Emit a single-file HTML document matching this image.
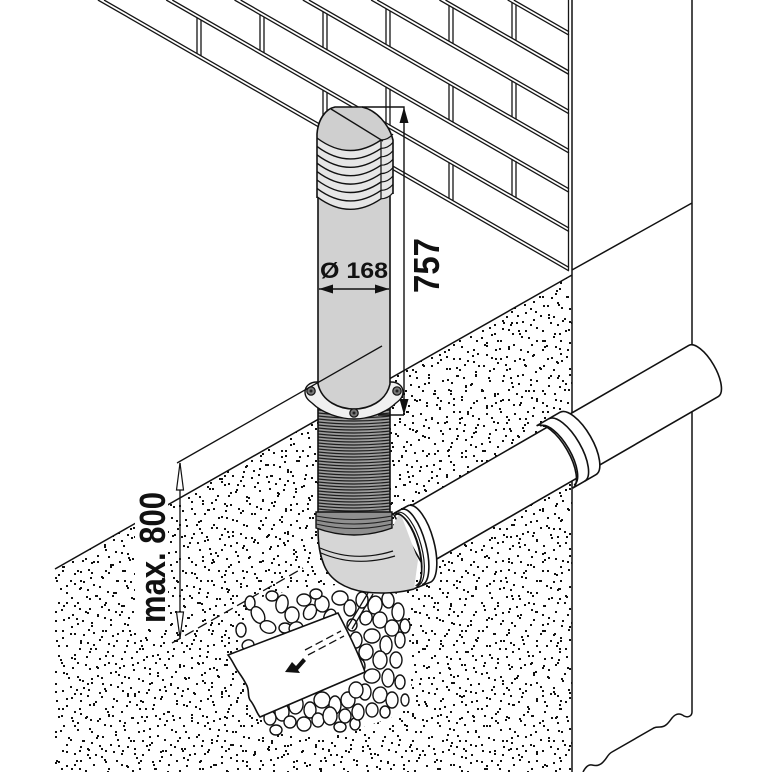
<!DOCTYPE html>
<html><head><meta charset="utf-8"><style>html,body{margin:0;padding:0;background:#fff}svg{display:block}</style></head>
<body>
<svg width="772" height="772" viewBox="0 0 772 772" xmlns="http://www.w3.org/2000/svg">
<defs>
<pattern id="pA" width="60" height="60" patternUnits="userSpaceOnUse"><path fill="#111" d="M3 5h2v2h-2zM17 2h2v2h-2zM29 8h2v2h-2zM44 4h2v2h-2zM55 11h2v2h-2zM8 17h2v2h-2zM22 20h2v2h-2zM37 15h2v2h-2zM50 24h2v2h-2zM2 30h2v2h-2zM14 33h2v2h-2zM28 29h2v2h-2zM41 36h2v2h-2zM56 40h2v2h-2zM6 45h2v2h-2zM19 48h2v2h-2zM33 44h2v2h-2zM47 51h2v2h-2zM11 57h2v2h-2zM26 56h2v2h-2zM39 58h2v2h-2zM52 55h2v2h-2zM31 22h2v2h-2zM45 30h2v2h-2zM20 40h2v2h-2z"/></pattern>
<pattern id="pB" width="47" height="53" patternUnits="userSpaceOnUse"><path fill="#111" d="M5 3h2v2h-2zM19 9h2v2h-2zM33 4h2v2h-2zM42 15h2v2h-2zM11 19h2v2h-2zM27 22h2v2h-2zM38 28h2v2h-2zM3 31h2v2h-2zM16 36h2v2h-2zM30 40h2v2h-2zM44 42h2v2h-2zM8 47h2v2h-2zM23 50h2v2h-2zM36 51h2v2h-2zM14 26h2v2h-2zM40 6h2v2h-2zM25 31h2v2h-2zM1 12h2v2h-2z"/></pattern>
<pattern id="pC" width="83" height="71" patternUnits="userSpaceOnUse"><path fill="#111" d="M7 9h2v2h-2zM25 4h2v2h-2zM41 12h2v2h-2zM58 6h2v2h-2zM74 15h2v2h-2zM13 27h2v2h-2zM32 24h2v2h-2zM50 30h2v2h-2zM66 34h2v2h-2zM79 40h2v2h-2zM4 44h2v2h-2zM21 49h2v2h-2zM38 43h2v2h-2zM55 52h2v2h-2zM71 58h2v2h-2zM10 64h2v2h-2zM29 67h2v2h-2zM46 62h2v2h-2zM62 69h2v2h-2zM80 3h2v2h-2zM35 35h2v2h-2zM18 38h2v2h-2zM60 20h2v2h-2zM76 50h2v2h-2zM44 56h2v2h-2z"/></pattern>
<clipPath id="gc"><polygon points="55,569 572,275 572,772 55,772"/></clipPath>
</defs>
<rect width="772" height="772" fill="#fff"/>

<!-- ground speckle -->
<g clip-path="url(#gc)">
<rect x="0" y="0" width="772" height="772" fill="url(#pA)"/>
<rect x="0" y="0" width="772" height="772" fill="url(#pB)"/>
<rect x="0" y="0" width="772" height="772" fill="url(#pC)"/>
</g>

<!-- bricks -->
<g stroke="#151515" stroke-width="1.3" fill="none">
<path d="M104,0L569,267.4M97.9,0L569,270.9M172.3,0L569,228.1M166.2,0L569,231.6M240.6,0L569,188.8M234.5,0L569,192.3M308.9,0L569,149.6M302.8,0L569,153.1M377.2,0L569,110.3M371.1,0L569,113.8M445.5,0L569,71M439.4,0L569,74.5M513.8,0L569,31.7M507.7,0L569,35.2"/>
<path d="M197,17.7V53.5M201,20V55.8M323,90.2V125.9M327,92.5V128.2M449,162.6V198.4M453,164.9V200.7M260,14.7V50.4M264,17V52.7M386,86.5V122.9M390,88.8V125.2M512,159V195.3M516,161.3V197.6M323,11.6V47.9M327,13.9V50.2M449,84.1V120M453,86.4V122.3M386,8.6V44.3M390,10.9V46.6M512,81V116.8M516,83.3V119.1M449,5.5V41.3M453,7.8V43.6M512,2.5V38.2M516,4.8V40.5"/>
<path d="M568.5,0V270"/>
</g>

<!-- wall & ground lines -->
<g stroke="#111" stroke-width="1.5" fill="none">
<path d="M572,0V772M692,0V712M572,270L692,203M55,569L572,275"/>
<path d="M692,712C692,716 688,718 684,716C680,713 676,713 672,718C669,722 666,727 660,727C657,727 655,727 652,729L612,752C608,754 607,758 604,761C600,766 596,766 592,765C588,764 585,768 583,772"/>
</g>

<!-- dimension 800 -->
<g stroke="#111" stroke-width="1.3" fill="none">
<path d="M180,463V638"/>
<path d="M172,643L303,568" stroke-dasharray="10 5"/>
</g>
<polygon points="180,463 176.5,490 183.5,490" fill="#fff" stroke="#111" stroke-width="1.2"/>
<polygon points="180,638 176.5,612 183.5,612" fill="#fff" stroke="#111" stroke-width="1.2"/>

<!-- horizontal pipe -->
<g stroke="#111" stroke-width="1.6" fill="#fff">
<path d="M394.3,515.5L688.75,345.45A11.8 29.5 -30 0 1 718.25,396.55L423.8,566.5Z"/>
<path d="M536.55,425.82L559.93,412.32A14.4 36 -30 0 1 595.93,474.68L572.55,488.18A14.4 36 -30 0 0 536.55,425.82Z"/>
<path fill="none" d="M540.15,426.06A13.6 34 -30 0 1 574.15,484.94"/>
<path fill="none" d="M548.67,418.82A14.4 36 -30 0 1 584.67,481.18"/>
</g>

<!-- gravel backing -->
<path d="M250,600L300,588L350,584L407,596L412,700L397,716L355,730L300,736L265,732L262,700L238,640Z" fill="#fff"/>
<g fill="#fff" stroke="#111" stroke-width="1.4">
<ellipse cx="250" cy="603" rx="5" ry="7"/>
<ellipse cx="272" cy="596" rx="6" ry="5"/>
<ellipse cx="258" cy="615" rx="6" ry="9" transform="rotate(-30 258 615)"/>
<ellipse cx="268" cy="627" rx="8" ry="6" transform="rotate(20 268 627)"/>
<ellipse cx="282" cy="604" rx="6" ry="9" transform="rotate(10 282 604)"/>
<ellipse cx="292" cy="615" rx="7" ry="8"/>
<ellipse cx="285" cy="628" rx="6" ry="5"/>
<ellipse cx="304" cy="600" rx="7" ry="6"/>
<ellipse cx="310" cy="612" rx="6" ry="8" transform="rotate(30 310 612)"/>
<ellipse cx="322" cy="604" rx="7" ry="8" transform="rotate(-10 322 604)"/>
<ellipse cx="330" cy="617" rx="6" ry="8" transform="rotate(20 330 617)"/>
<ellipse cx="340" cy="598" rx="8" ry="7"/>
<ellipse cx="350" cy="608" rx="6" ry="8"/>
<ellipse cx="316" cy="594" rx="6" ry="5"/>
<ellipse cx="296" cy="628" rx="7" ry="6" transform="rotate(-20 296 628)"/>
<ellipse cx="248" cy="645" rx="6" ry="5" transform="rotate(-20 248 645)"/>
<ellipse cx="241" cy="630" rx="5" ry="7"/>
<ellipse cx="362" cy="600" rx="6" ry="8"/>
<ellipse cx="375" cy="605" rx="7" ry="9" transform="rotate(10 375 605)"/>
<ellipse cx="388" cy="600" rx="6" ry="8" transform="rotate(-10 388 600)"/>
<ellipse cx="398" cy="612" rx="6" ry="9"/>
<ellipse cx="380" cy="620" rx="7" ry="8"/>
<ellipse cx="366" cy="618" rx="6" ry="7" transform="rotate(20 366 618)"/>
<ellipse cx="405" cy="626" rx="5" ry="7"/>
<ellipse cx="392" cy="628" rx="7" ry="8"/>
<ellipse cx="352" cy="625" rx="5" ry="6"/>
<ellipse cx="372" cy="636" rx="8" ry="7"/>
<ellipse cx="386" cy="645" rx="6" ry="9"/>
<ellipse cx="400" cy="640" rx="5" ry="8"/>
<ellipse cx="356" cy="640" rx="6" ry="8"/>
<ellipse cx="366" cy="652" rx="7" ry="8" transform="rotate(10 366 652)"/>
<ellipse cx="360" cy="666" rx="5" ry="7"/>
<ellipse cx="380" cy="660" rx="7" ry="9"/>
<ellipse cx="396" cy="660" rx="6" ry="8"/>
<ellipse cx="372" cy="676" rx="8" ry="7" transform="rotate(-10 372 676)"/>
<ellipse cx="388" cy="678" rx="6" ry="9"/>
<ellipse cx="400" cy="682" rx="5" ry="7"/>
<ellipse cx="365" cy="692" rx="6" ry="8"/>
<ellipse cx="380" cy="695" rx="7" ry="8" transform="rotate(10 380 695)"/>
<ellipse cx="392" cy="700" rx="6" ry="8"/>
<ellipse cx="405" cy="700" rx="4" ry="6"/>
<ellipse cx="372" cy="710" rx="6" ry="7"/>
<ellipse cx="385" cy="712" rx="5" ry="6"/>
<ellipse cx="270" cy="718" rx="6" ry="7"/>
<ellipse cx="282" cy="712" rx="7" ry="9"/>
<ellipse cx="296" cy="705" rx="7" ry="9" transform="rotate(10 296 705)"/>
<ellipse cx="310" cy="710" rx="6" ry="8"/>
<ellipse cx="322" cy="700" rx="8" ry="8"/>
<ellipse cx="335" cy="705" rx="6" ry="9"/>
<ellipse cx="348" cy="700" rx="7" ry="8"/>
<ellipse cx="290" cy="722" rx="6" ry="6"/>
<ellipse cx="304" cy="724" rx="7" ry="7"/>
<ellipse cx="318" cy="720" rx="6" ry="7"/>
<ellipse cx="330" cy="716" rx="7" ry="9"/>
<ellipse cx="345" cy="716" rx="6" ry="7"/>
<ellipse cx="340" cy="727" rx="6" ry="5"/>
<ellipse cx="355" cy="724" rx="5" ry="6"/>
<ellipse cx="358" cy="712" rx="6" ry="8"/>
<ellipse cx="356" cy="690" rx="7" ry="8"/>
<ellipse cx="276" cy="730" rx="6" ry="5"/>
</g>

<!-- drain tube -->
<g stroke="#111" stroke-width="1.3" fill="none"><path d="M368,593L347,628M373,594L352,629"/></g>

<!-- drain pipe piece -->
<path d="M228,655L338,613C348,632 358,652 365,672L260,717C256,712 255,706 250,700C247,695 250,690 246,684C242,676 238,672 236,668C233,663 232,660 228,655Z" fill="#fff" stroke="#111" stroke-width="1.6"/>
<g stroke="#111" stroke-width="1.3" fill="none" stroke-dasharray="8 4"><path d="M305,650L341,631M308,655L344,636"/></g>
<path d="M285,672L292,662L296,666L303,658L306,661L298,670L300,673Z" fill="#111"/>

<!-- corrugated pipe -->
<rect x="318" y="400" width="72" height="115" fill="#9c9c9c"/>
<path stroke="#1e1e1e" stroke-width="1.2" fill="none" d="M318,404q36,4 72,0M318,407q36,4 72,0M318,410q36,4 72,0M318,413q36,4 72,0M318,416q36,4 72,0M318,419q36,4 72,0M318,422q36,4 72,0M318,425q36,4 72,0M318,428q36,4 72,0M318,431q36,4 72,0M318,434q36,4 72,0M318,437q36,4 72,0M318,440q36,4 72,0M318,443q36,4 72,0M318,446q36,4 72,0M318,449q36,4 72,0M318,452q36,4 72,0M318,455q36,4 72,0M318,458q36,4 72,0M318,461q36,4 72,0M318,464q36,4 72,0M318,467q36,4 72,0M318,470q36,4 72,0M318,473q36,4 72,0M318,476q36,4 72,0M318,479q36,4 72,0M318,482q36,4 72,0M318,485q36,4 72,0M318,488q36,4 72,0M318,491q36,4 72,0M318,494q36,4 72,0M318,497q36,4 72,0M318,500q36,4 72,0M318,503q36,4 72,0M318,506q36,4 72,0M318,509q36,4 72,0"/>
<path d="M318,400V514M390,400V514" stroke="#111" stroke-width="1.6"/>

<!-- elbow -->
<path d="M318,528L392,528L400,512L418,560L414,589C400,593 380,594 365,592C345,589 330,580 324,565C320,555 318,545 318,528Z" fill="#d6d6d6"/>
<path d="M318,528C318,545 320,555 324,565C330,580 345,589 365,592C380,594 400,593 414,589" stroke="#111" stroke-width="1.6" fill="none"/>
<path d="M320,548Q355,563 393,551M321,553Q356,568 395,556" stroke="#111" stroke-width="1.2" fill="none"/>
<path d="M316,512L392,512L392,528Q354,542 316,528Z" fill="#8f8f8f" stroke="#111" stroke-width="1.4"/>
<path d="M316,516q38,7 76,0M316,520q38,8 76,0M316,524q38,9 76,0" stroke="#222" stroke-width="1.1" fill="none"/>

<!-- socket at elbow -->
<g stroke="#111" stroke-width="1.6" fill="#fff">
<path d="M393.9,513.3L408.65,505.36A15 40 -15 0 1 429.35,582.64L414.1,588.7A15 39 -15 0 0 393.9,513.3Z"/>
<path fill="none" stroke-width="1.2" d="M396.4,514.3A14 37 -15 0 1 415.6,585.7"/>
<path fill="none" stroke-width="1.2" d="M398.2,512.3A14 38 -15 0 1 417.8,585.7"/>
<path fill="none" d="M401.9,509.3A14 39 -15 0 1 422.1,584.7"/>
</g>

<!-- flange -->
<path d="M305,392C305,386 310,382 317,382L391,382C398,382 403,386 403,392C403,397 400,400 396,403C386,413 368,419 354,419C340,419 322,413 312,403C308,400 305,397 305,392Z" fill="#f0f0f0" stroke="#111" stroke-width="1.4"/>

<!-- pipe body -->
<path d="M318,196L318,384C322,402 340,409 354,409C368,409 386,402 390,384L390,196Z" fill="#d1d1d1"/>
<path d="M318,196L318,384C322,402 340,409 354,409C368,409 386,402 390,384L390,196" fill="none" stroke="#111" stroke-width="1.6"/>

<!-- bolts -->
<g fill="#777" stroke="#111" stroke-width="1.2">
<circle cx="311" cy="391" r="4.2"/><circle cx="397" cy="391" r="4.2"/><circle cx="354" cy="413" r="4.2"/>
</g>
<g fill="#222"><circle cx="311" cy="391" r="1.5"/><circle cx="397" cy="391" r="1.5"/><circle cx="354" cy="413" r="1.5"/></g>

<!-- head -->
<path d="M317,197L317,134C318,120 325,109 335,107L362,107C376,110 389,124 393,140L393,194L381,199Q349,221 317,197Z" fill="#e6e6e6"/>
<path d="M317,138L317,134C318,120 325,109 335,107L362,107C376,110 389,124 393,140L381,140Q349,162 317,138Z" fill="#cfcfcf"/>
<g stroke="#111" fill="none">
<path stroke-width="1.6" d="M317,198L317,134C318,120 325,109 335,107L362,107C376,110 389,124 393,140L393,194"/>
<path stroke-width="1.4" d="M317,138Q349,162 381,140M317,146.4Q349,170.4 381,148.4M317,154.8Q349,178.8 381,156.8M317,163.2Q349,187.2 381,165.2M317,171.6Q349,195.6 381,173.6M317,180Q349,204 381,182M317,188.4Q349,212.4 381,190.4M317,196.8Q349,220.8 381,198.8"/>
<path stroke-width="1.2" d="M381,140V199M381,140Q388,140 393,134M381,148.4Q388,148.4 393,142.4M381,156.8Q388,156.8 393,150.8M381,165.2Q388,165.2 393,159.2M381,173.6Q388,173.6 393,167.6M381,182Q388,182 393,176M381,190.4Q388,190.4 393,184.4M381,198.8Q388,198.8 393,192.8"/>
<path stroke-width="1.4" d="M331,109L383,141"/>
</g>

<!-- 800 top extension line over pipe -->
<path d="M177,463L382,346" stroke="#111" stroke-width="1.3" fill="none"/>

<!-- dimension 757 -->
<g stroke="#111" stroke-width="1.4" fill="none"><path d="M362,107H404V415M378,415H404"/></g>
<polygon points="404,107 399.5,123 408.5,123" fill="#111"/>
<polygon points="404,415 399.5,399 408.5,399" fill="#111"/>

<!-- dimension 168 -->
<path d="M319,289H389" stroke="#111" stroke-width="1.6"/>
<polygon points="319,289 333,284.5 333,293.5" fill="#111"/>
<polygon points="389,289 375,284.5 375,293.5" fill="#111"/>

<!-- text -->
<text x="320" y="278" font-family="Liberation Sans, Arial, sans-serif" font-size="22" font-weight="bold" fill="#111" textLength="68" lengthAdjust="spacingAndGlyphs">Ø 168</text>
<text x="439" y="293" transform="rotate(-90 439 293)" font-family="Liberation Sans, Arial, sans-serif" font-size="36" font-weight="bold" fill="#111" textLength="55" lengthAdjust="spacingAndGlyphs">757</text>
<rect x="135" y="488" width="33" height="140" fill="#fff"/>
<text x="165" y="623" transform="rotate(-90 165 623)" font-family="Liberation Sans, Arial, sans-serif" font-size="36" font-weight="bold" fill="#111" textLength="131" lengthAdjust="spacingAndGlyphs">max. 800</text>
</svg>
</body></html>
